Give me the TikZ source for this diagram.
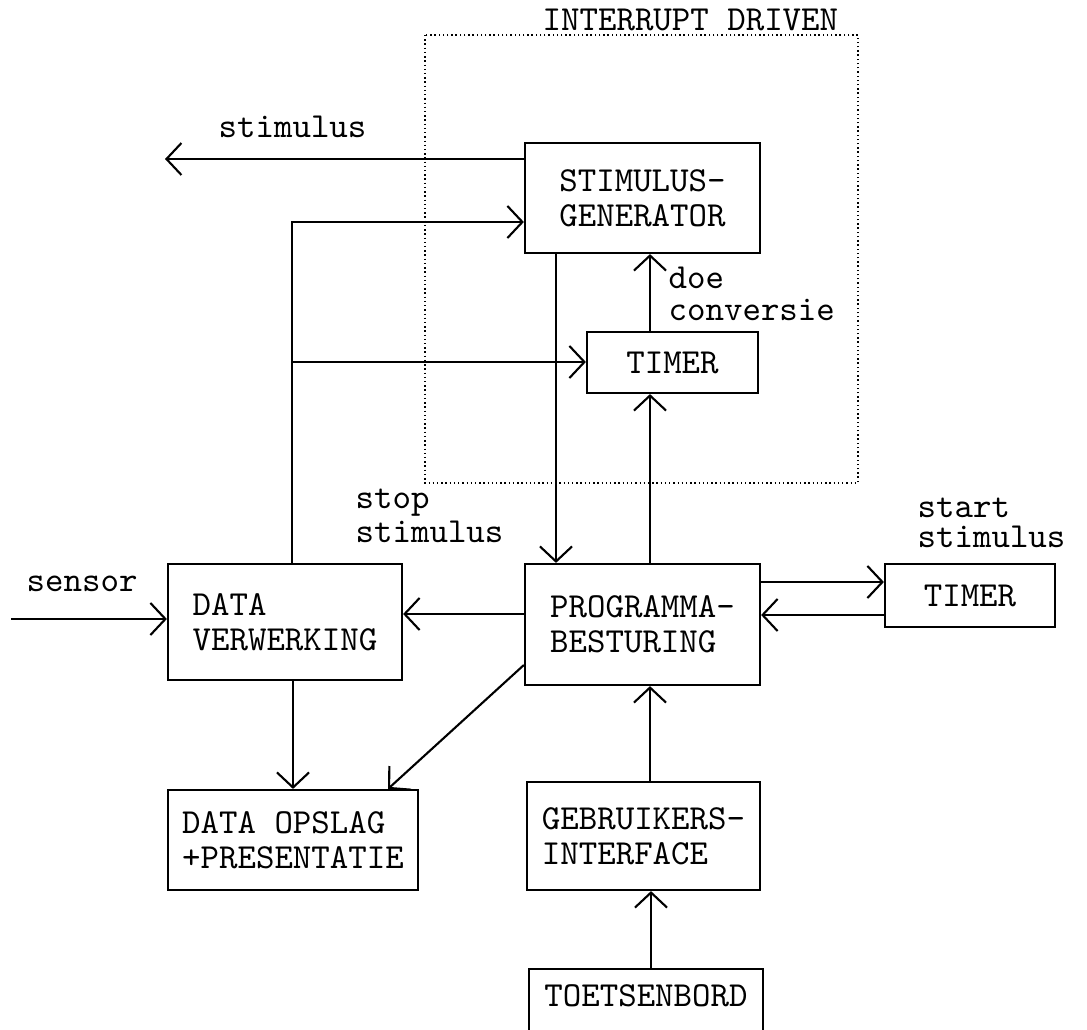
\documentclass[tikz,border=0pt]{standalone}
\usetikzlibrary{arrows.meta}
\begin{document}
\begin{tikzpicture}[x=0.01cm,y=-0.01cm,
  every node/.style={font=\ttfamily\fontsize{10}{10}\selectfont, inner sep=0pt},
  box/.style={draw, line width=0.6pt, align=left},
  conn/.style={line width=0.6pt, -{Straight Barb[length=1.5mm,width=3.2mm,line width=0.6pt]}},
  lbl/.style={anchor=base west},
  dots/.style={line width=0.5pt, dash pattern=on 0.4pt off 0.8pt}
]
\useasboundingbox (0,0) rectangle (1087,1030);
\clip (0,0) rectangle (1087,1030);

% interrupt-driven region
\draw[dots] (425,35) rectangle (858,483);
\node[lbl] (lint) at (542,30) {INTERRUPT DRIVEN};

% boxes
\node[box, minimum width=2.35cm, minimum height=1.10cm] (sg) at (642.5,198) {STIMULUS-\\GENERATOR};
\node[box, minimum width=1.71cm, minimum height=0.61cm] (ti) at (672.5,362.5) {TIMER};
\node[box, minimum width=2.34cm, minimum height=1.16cm] (dv) at (285,622) {DATA\\VERWERKING};
\node[box, minimum width=2.35cm, minimum height=1.21cm] (pb) at (642.5,624.5) {PROGRAMMA-\\BESTURING};
\node[box, minimum width=1.70cm, minimum height=0.63cm] (tr) at (970,595.5) {TIMER};
\node[box, minimum width=2.50cm, minimum height=1.00cm] (do) at (293,840) {DATA OPSLAG\\+PRESENTATIE};
\node[box, minimum width=2.33cm, minimum height=1.08cm] (gi) at (643.5,836) {GEBRUIKERS-\\INTERFACE};
\node[box, minimum width=2.34cm, minimum height=0.90cm] (tb) at (646,1014) {};
\node (tbt) at (646,996) {TOETSENBORD};

% helper coordinates
\coordinate (stimend) at (165,159);
\coordinate (lp) at (292,222);
\coordinate (br) at (292,362);
\coordinate (v1) at (556,0);
\coordinate (v2) at (650,0);
\coordinate (v3) at (293,0);
\coordinate (v4) at (388,0);
\coordinate (v5) at (651,0);
\coordinate (h1) at (0,614);
\coordinate (h2) at (0,582);
\coordinate (h3) at (0,615);
\coordinate (h4) at (0,665);
\coordinate (sens) at (11,619);

% connectors
\draw[conn] (sg.west |- stimend) -- (stimend);
\draw[conn] (dv.north -| lp) -- (lp) -- (sg.west |- lp);
\draw[conn] (br) -- (ti.west |- br);
\draw[conn] (sg.south -| v1) -- (pb.north -| v1);
\draw[conn] (ti.north -| v2) -- (sg.south -| v2);
\draw[conn] (pb.north -| v2) -- (ti.south -| v2);
\draw[conn] (pb.west |- h1) -- (dv.east |- h1);
\draw[conn] (sens) -- (dv.west |- sens);
\draw[conn] (pb.east |- h2) -- (tr.west |- h2);
\draw[conn] (tr.west |- h3) -- (pb.east |- h3);
\draw[conn] (dv.south -| v3) -- (do.north -| v3);
\draw[conn] (pb.west |- h4) -- (do.north -| v4);
\draw[conn] (gi.north -| v2) -- (pb.south -| v2);
\draw[conn] (tb.north -| v5) -- (gi.south -| v5);

% labels
\node[lbl] (lstim) at (218,137) {stimulus};
\node[lbl] (ldoe) at (668,288) {doe};
\node[lbl] (lconv) at (668,320) {conversie};
\node[lbl] (lstop) at (355,508) {stop};
\node[lbl] (lstop2) at (355,542) {stimulus};
\node[lbl] (lstart) at (917,517) {start};
\node[lbl] (lstart2) at (917,547) {stimulus};
\node[lbl] (lsens) at (26,591) {sensor};
\end{tikzpicture}
\end{document}
